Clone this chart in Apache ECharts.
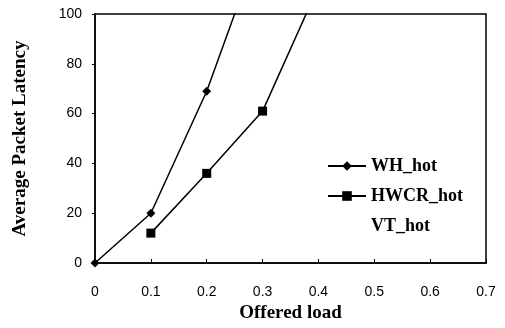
<!DOCTYPE html>
<html><head><meta charset="utf-8">
<script src="https://cdn.jsdelivr.net/npm/echarts@6/dist/echarts.min.js"></script>
<style>html,body{margin:0;padding:0;background:#fff}#c{width:505px;height:328px}</style>
</head><body><div id="c"></div>
<script>
var xTicks = [0, 0.1, 0.2, 0.3, 0.4, 0.5, 0.6, 0.7];
var whHot = [[0, 0], [0.1, 20], [0.2, 69], [0.3, 131]];
var hwcrHot = [[0.1, 12], [0.2, 36], [0.3, 61], [0.4, 111]];
var vtHot = [];
var seriesNames = ['WH_hot', 'HWCR_hot', 'VT_hot'];

var chart = echarts.init(document.getElementById('c'));
var tickFont = {fontFamily: 'Liberation Sans', fontSize: 14, color: '#000'};
var titleFont = {fontFamily: 'Liberation Serif', fontWeight: 'bold', fontSize: 19, color: '#000'};
chart.setOption({
  animation: false,
  backgroundColor: '#fff',
  grid: {left: 95, right: 19, top: 14, bottom: 61, show: true, borderColor: '#000', borderWidth: 1.5, backgroundColor: 'transparent'},
  xAxis: {
    type: 'value', min: 0, max: 0.7, interval: 0.1,
    name: 'Offered load', nameLocation: 'middle', nameGap: 41, nameTextStyle: titleFont,
    axisLine: {show: true, lineStyle: {color: '#000', width: 1.5}},
    axisTick: {show: true, inside: true, length: 4, lineStyle: {color: '#000'}},
    axisLabel: Object.assign({margin: 22, formatter: function (v) { return String(Math.round(v * 10) / 10); }}, tickFont),
    splitLine: {show: false}
  },
  yAxis: {
    type: 'value', min: 0, max: 100, interval: 20,
    name: 'Average Packet Latency', nameLocation: 'middle', nameGap: 65, nameTextStyle: titleFont,
    axisLine: {show: true, lineStyle: {color: '#000', width: 1.5}},
    axisTick: {show: true, inside: false, length: 3, lineStyle: {color: '#000'}},
    axisLabel: Object.assign({margin: 13}, tickFont),
    splitLine: {show: false}
  },
  legend: {
    orient: 'vertical', left: 322, top: 152, itemGap: 12, itemWidth: 38, itemHeight: 12,
    data: seriesNames,
    textStyle: {fontFamily: 'Liberation Serif', fontWeight: 'bold', fontSize: 18, color: '#000'}
  },
  series: [
    {name: seriesNames[0], type: 'line', data: whHot, clip: true, symbol: 'diamond', symbolSize: 9,
     lineStyle: {color: '#000', width: 1.5}, itemStyle: {color: '#000'}},
    {name: seriesNames[1], type: 'line', data: hwcrHot, clip: true, symbol: 'rect', symbolSize: 9,
     lineStyle: {color: '#000', width: 1.5}, itemStyle: {color: '#000'}},
    {name: seriesNames[2], type: 'line', data: vtHot, symbol: 'none',
     lineStyle: {color: '#fff', width: 0, opacity: 0}, itemStyle: {color: '#fff', opacity: 0}}
  ]
});
</script></body></html>
